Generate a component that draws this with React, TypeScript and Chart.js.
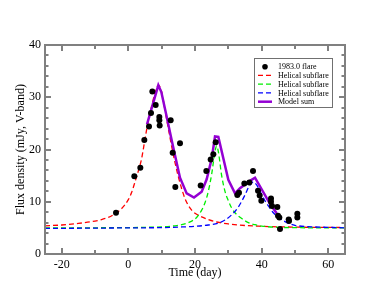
import React, { useEffect, useRef } from "react";
import { Chart, registerables } from "chart.js";

Chart.register(...registerables);

// Observed data (1983.0 flare)
const obsTime = [
  -3.7, 1.8, 3.6, 4.8, 6.2, 6.8, 7.2, 8.2, 9.3, 9.3, 9.4, 12.7, 13.3, 14.1, 15.5,
  21.7, 23.4, 24.7, 25.5, 26.2,
  32.7, 33.2, 34.8, 36.3, 37.4, 38.9, 39.4, 39.9, 42.8, 42.8, 43.1, 44.7, 44.9, 45.3, 45.5,
  48.1, 48.2, 50.7, 50.7,
];
const obsFlux = [
  7.9, 14.9, 16.5, 21.8, 24.4, 27.0, 31.1, 28.5, 26.2, 25.6, 24.6, 25.6, 19.4, 12.8, 21.2,
  13.1, 15.9, 18.1, 19.1, 21.4,
  11.3, 11.7, 13.5, 13.7, 15.9, 12.1, 11.2, 10.2, 10.6, 10.0, 9.2, 9.0, 7.3, 7.0, 4.8,
  6.6, 6.3, 7.7, 7.0,
];

// Helical subflare 1 (red)
const redT = [-25, -20, -15, -10, -8, -6, -4, -2, 0, 1, 2, 3, 4, 5, 6, 7, 8, 9, 10, 11, 12, 13, 14, 15, 16, 17, 18, 19, 20, 22, 24, 26, 28, 30, 35, 40, 45, 50, 55, 60, 65];
const redF = [5.4, 5.55, 5.85, 6.3, 6.6, 7.0, 7.7, 8.7, 10.4, 11.8, 13.8, 15.9, 18.3, 22.0, 25.6, 28.3, 30.8, 32.3, 31.0, 27.5, 24.0, 20.6, 17.5, 14.8, 12.5, 10.6, 9.3, 8.4, 7.8, 7.1, 6.6, 6.2, 5.95, 5.75, 5.45, 5.3, 5.2, 5.15, 5.1, 5.1, 5.05];

// Helical subflare 2 (green)
const greenT = [-25, 0, 5, 10, 14, 16, 18, 20, 21, 22, 23, 24, 25, 26, 26.5, 27, 28, 29, 30, 31, 32, 34, 36, 38, 40, 45, 50, 55, 65];
const greenF = [5.0, 5.05, 5.1, 5.2, 5.4, 5.6, 6.0, 6.7, 7.4, 8.4, 9.8, 12.0, 15.3, 19.6, 20.7, 19.6, 15.0, 12.0, 10.2, 8.8, 7.9, 6.8, 6.0, 5.6, 5.35, 5.1, 5.05, 5.0, 5.0];

// Helical subflare 3 (blue)
const blueT = [-25, -10, 0, 10, 15, 20, 24, 27, 29, 31, 33, 35, 36, 37, 37.5, 38, 39, 40, 41, 42, 43.5, 45, 47, 50, 55, 60, 65];
const blueF = [4.9, 4.95, 5.0, 5.05, 5.15, 5.3, 5.55, 5.9, 6.5, 7.5, 9.0, 11.3, 12.7, 13.6, 13.8, 13.6, 12.7, 11.4, 10.2, 9.2, 7.9, 7.0, 6.2, 5.5, 5.2, 5.1, 5.0];

// Model sum (purple)
const sumT = [5.6, 9.0, 9.9, 11.3, 13.2, 15.5, 17.5, 19.7, 22.0, 23.5, 25.0, 26.0, 27.0, 30.0, 32.0, 33.5, 36.5, 38.0, 42.5, 44.5];
const sumF = [24.8, 32.3, 31.0, 26.9, 21.2, 14.6, 11.6, 10.8, 11.9, 14.3, 18.2, 22.5, 22.4, 14.2, 11.6, 12.6, 14.0, 14.6, 9.6, 7.8];

const xTickLabels = [-20, 0, 20, 40, 60];
const yTickLabels = [0, 10, 20, 30, 40];
const seriesLabels = ["1983.0 flare", "Helical subflare", "Helical subflare", "Helical subflare", "Model sum"];

const FONT = "'Liberation Serif', 'DejaVu Serif', serif";
const FRAME = "#808080";

const pts = (xs: number[], ys: number[]) => xs.map((x, i) => ({ x, y: ys[i] }));

const framePlugin = {
  id: "frame",
  afterDatasetsDraw(chart: any) {
    const { ctx, chartArea: a, scales } = chart;
    const xs = scales.x;
    const ys = scales.y;
    ctx.save();
    ctx.strokeStyle = FRAME;
    ctx.lineWidth = 2;
    ctx.beginPath();
    // x ticks every 10, major every 20
    for (let v = -20; v <= 60; v += 10) {
      const px = Math.round(xs.getPixelForValue(v)) + 0.0;
      const len = v % 20 === 0 ? 6 : 4;
      ctx.moveTo(px, a.bottom);
      ctx.lineTo(px, a.bottom - len);
      ctx.moveTo(px, a.top);
      ctx.lineTo(px, a.top + len);
    }
    for (let v = 0; v <= 40; v += 2) {
      const py = Math.round(ys.getPixelForValue(v));
      const len = v % 10 === 0 ? 6 : 3.5;
      ctx.moveTo(a.left, py);
      ctx.lineTo(a.left + len, py);
      ctx.moveTo(a.right, py);
      ctx.lineTo(a.right - len, py);
    }
    ctx.stroke();
    ctx.strokeRect(a.left, a.top, a.right - a.left, a.bottom - a.top);
    ctx.restore();
  },
  afterDraw(chart: any) {
    const { ctx } = chart;
    const ds = chart.data.datasets;
    const bx = 254.5, by = 58.5, bw = 78, bh = 49;
    ctx.save();
    ctx.fillStyle = "#ffffff";
    ctx.fillRect(bx, by, bw, bh);
    ctx.strokeStyle = "#707070";
    ctx.lineWidth = 1;
    ctx.strokeRect(bx, by, bw, bh);
    ctx.font = "8px " + FONT;
    ctx.textBaseline = "middle";
    ctx.textAlign = "left";
    for (let i = 0; i < ds.length; i++) {
      const y = 66.7 + i * 8.75;
      const d = ds[i];
      if (d.type === "scatter") {
        ctx.fillStyle = "#000";
        ctx.beginPath();
        ctx.arc(265, y, 2.8, 0, Math.PI * 2);
        ctx.fill();
      } else {
        ctx.strokeStyle = d.borderColor;
        ctx.lineWidth = d.borderWidth;
        ctx.setLineDash(d.borderDash || []);
        ctx.beginPath();
        ctx.moveTo(258, y);
        ctx.lineTo(272, y);
        ctx.stroke();
        ctx.setLineDash([]);
      }
      ctx.fillStyle = "#000";
      ctx.fillText(seriesLabels[i], 278, y + 0.5);
    }
    ctx.restore();
  },
};

export default function App() {
  const ref = useRef<HTMLCanvasElement | null>(null);
  useEffect(() => {
    if (!ref.current) return;
    const dash = [5, 3];
    const chart = new Chart(ref.current, {
      type: "line",
      data: {
        datasets: [
          {
            type: "scatter",
            label: seriesLabels[0],
            data: pts(obsTime, obsFlux),
            backgroundColor: "#000",
            borderColor: "#000",
            pointRadius: 3,
            pointBorderWidth: 0,
            showLine: false,
            order: 0,
          } as any,
          {
            type: "line",
            label: seriesLabels[1],
            data: pts(redT, redF),
            borderColor: "#ff0000",
            borderWidth: 1.3,
            borderDash: dash,
            pointRadius: 0,
            cubicInterpolationMode: "monotone",
            fill: false,
            order: 4,
          },
          {
            type: "line",
            label: seriesLabels[2],
            data: pts(greenT, greenF),
            borderColor: "#00ee00",
            borderWidth: 1.3,
            borderDash: dash,
            pointRadius: 0,
            cubicInterpolationMode: "monotone",
            fill: false,
            order: 3,
          },
          {
            type: "line",
            label: seriesLabels[3],
            data: pts(blueT, blueF),
            borderColor: "#0000ff",
            borderWidth: 1.3,
            borderDash: dash,
            pointRadius: 0,
            cubicInterpolationMode: "monotone",
            fill: false,
            order: 2,
          },
          {
            type: "line",
            label: seriesLabels[4],
            data: pts(sumT, sumF),
            borderColor: "#9400d3",
            borderWidth: 2.5,
            pointRadius: 0,
            tension: 0,
            fill: false,
            order: 1,
          },
        ],
      },
      options: {
        animation: false,
        responsive: false,
        devicePixelRatio: 1,
        layout: { padding: { top: 45, right: 43, left: 0, bottom: 0 } },
        plugins: { legend: { display: false }, tooltip: { enabled: false } },
        scales: {
          x: {
            type: "linear",
            min: -25,
            max: 65,
            grid: { display: false, drawTicks: false },
            border: { display: false },
            afterBuildTicks: (s: any) => {
              s.ticks = xTickLabels.map((v) => ({ value: v }));
            },
            afterFit: (s: any) => {
              s.height = 46;
            },
            ticks: { color: "#000", padding: 4, font: { family: FONT, size: 12 } },
            title: {
              display: true,
              text: "Time (day)",
              color: "#000",
              font: { family: FONT, size: 12 },
              padding: { top: 0, bottom: 20 },
            },
          },
          y: {
            type: "linear",
            min: 0,
            max: 40,
            grid: { display: false, drawTicks: false },
            border: { display: false },
            afterBuildTicks: (s: any) => {
              s.ticks = yTickLabels.map((v) => ({ value: v }));
            },
            afterFit: (s: any) => {
              s.width = 45;
            },
            ticks: { color: "#000", padding: 4, font: { family: FONT, size: 12 } },
            title: {
              display: true,
              text: "Flux density (mJy, V-band)",
              color: "#000",
              font: { family: FONT, size: 12 },
              padding: { top: 14, bottom: 0 },
            },
          },
        },
      },
      plugins: [framePlugin],
    } as any);
    return () => chart.destroy();
  }, []);
  return (
    <div style={{ position: "absolute", left: 0, top: 0, width: 388, height: 300, background: "#fff" }}>
      <canvas ref={ref} width={388} height={300} style={{ width: 388, height: 300, display: "block" }} />
    </div>
  );
}
